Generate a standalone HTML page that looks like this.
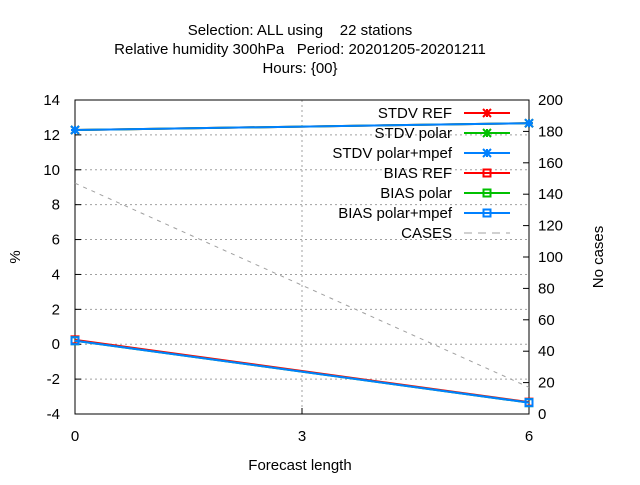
<!DOCTYPE html>
<html><head><meta charset="utf-8"><style>
body{margin:0;background:#fff;}
svg{font-family:"Liberation Sans",sans-serif;font-size:15px;}
text{white-space:pre;}
</style></head><body>
<svg id="chart" width="640" height="480" viewBox="0 0 640 480">
<g text-anchor="middle" fill="#000">
<text x="300" y="35" xml:space="preserve">Selection: ALL using    22 stations</text>
<text x="300" y="54" xml:space="preserve">Relative humidity 300hPa   Period: 20201205-20201211</text>
<text x="300" y="73">Hours: {00}</text>
</g>
<g id="grid"></g>
<g id="axes"></g>
<g id="series"></g>
<g id="legend"></g>
<text x="300" y="470" text-anchor="middle">Forecast length</text>
<text transform="translate(20,257) rotate(-90)" text-anchor="middle">%</text>
<text transform="translate(603,257) rotate(-90)" text-anchor="middle">No cases</text>
</svg>
<script>
const xs=[0,6];
const stdvRef=[12.28,12.67];
const stdvPolar=[12.28,12.67];
const stdvMpef=[12.28,12.67];
const biasRef=[0.25,-3.32];
const biasPolar=[0.2,-3.35];
const biasMpef=[0.2,-3.35];
const cases=[147,17];
const xTicks=[0,3,6];
const yTicks=[-4,-2,0,2,4,6,8,10,12,14];
const y2Ticks=[0,20,40,60,80,100,120,140,160,180,200];
const L=75,R=529,T=100,B=414;
const X=v=>L+(v-0)/6*(R-L);
const Y=v=>B-(v+4)/18*(B-T);
const Y2=v=>B-v/200*(B-T);
const NS='http://www.w3.org/2000/svg';
function mk(tag,attrs,parent){const e=document.createElementNS(NS,tag);for(const k in attrs)e.setAttribute(k,attrs[k]);parent.appendChild(e);return e;}
const grid=document.getElementById('grid'),axes=document.getElementById('axes'),ser=document.getElementById('series'),leg=document.getElementById('legend');
yTicks.forEach(v=>{
 if(v>-4&&v<14){const g=mk('line',{x1:L,x2:R,y1:Y(v),y2:Y(v),stroke:'#a0a0a0','stroke-dasharray':'2,3'},grid);
 
 }
 const t=mk('line',{x1:L,x2:L+6,y1:Y(v),y2:Y(v),stroke:'#000'},axes);
 
 
 const tx=mk('text',{x:L-15,y:Y(v)+5,'text-anchor':'end'},axes);tx.textContent=v;
 
 
});
y2Ticks.forEach(v=>{
 const t=mk('line',{x1:R-6,x2:R,y1:Y2(v),y2:Y2(v),stroke:'#000'},axes);
 
 
 const tx=mk('text',{x:R+9,y:Y2(v)+5,'text-anchor':'start'},axes);tx.textContent=v;
 
 
});
xTicks.forEach(v=>{
 if(v>0&&v<6){const g=mk('line',{x1:X(v),x2:X(v),y1:T,y2:B,stroke:'#a0a0a0','stroke-dasharray':'2,3'},grid);
 
 }
 const t=mk('line',{x1:X(v),x2:X(v),y1:B-6,y2:B,stroke:'#000'},axes);
 
 
 const tx=mk('text',{x:X(v),y:B+27,'text-anchor':'middle'},axes);tx.textContent=v;
 
 
});
const fr=mk('rect',{x:L,y:T,width:R-L,height:B-T,fill:'none',stroke:'#000'},axes);


function marker(g,x,y,type,c){
 if(type==='star'){mk('path',{d:`M${x-4},${y-4}L${x+4},${y+4}M${x-4},${y+4}L${x+4},${y-4}M${x-4},${y}L${x+4},${y}M${x},${y-4}L${x},${y+4}`,stroke:c,'stroke-width':2},g);}
 else if(type==='sq'){mk('rect',{x:x-3.5,y:y-3.5,width:7,height:7,fill:'none',stroke:c,'stroke-width':2},g);}
}
const defs=[
 ['STDV REF',stdvRef,'#ff0000','star',Y,null],
 ['STDV polar',stdvPolar,'#00c000','star',Y,null],
 ['STDV polar+mpef',stdvMpef,'#0080ff','star',Y,null],
 ['BIAS REF',biasRef,'#ff0000','sq',Y,null],
 ['BIAS polar',biasPolar,'#00c000','sq',Y,null],
 ['BIAS polar+mpef',biasMpef,'#0080ff','sq',Y,null],
 ['CASES',cases,'#a0a0a0','none',Y2,'6,6']
];
defs.forEach((d,i)=>{
 const g=mk('g',{},ser);
 
 
 const pts=xs.map((x,j)=>X(x)+','+d[4](d[1][j])).join(' ');
 const a={points:pts,fill:'none',stroke:d[2],'stroke-width':d[5]?1:2};
 if(d[5])a['stroke-dasharray']='4,5';
 mk('polyline',a,g);
 xs.forEach((x,j)=>marker(g,X(x),d[4](d[1][j]),d[3],d[2]));
 const ly=113+i*20;
 const lg=mk('g',{},leg);
 
 
 const t=mk('text',{x:452,y:ly+5,'text-anchor':'end'},lg);t.textContent=d[0];
 const la={x1:464,x2:510,y1:ly,y2:ly,stroke:d[2],'stroke-width':d[5]?1:2};
 if(d[5])la['stroke-dasharray']='8,6';
 mk('line',la,lg);
 marker(lg,487,ly,d[3],d[2]);
});
</script>
</body></html>
